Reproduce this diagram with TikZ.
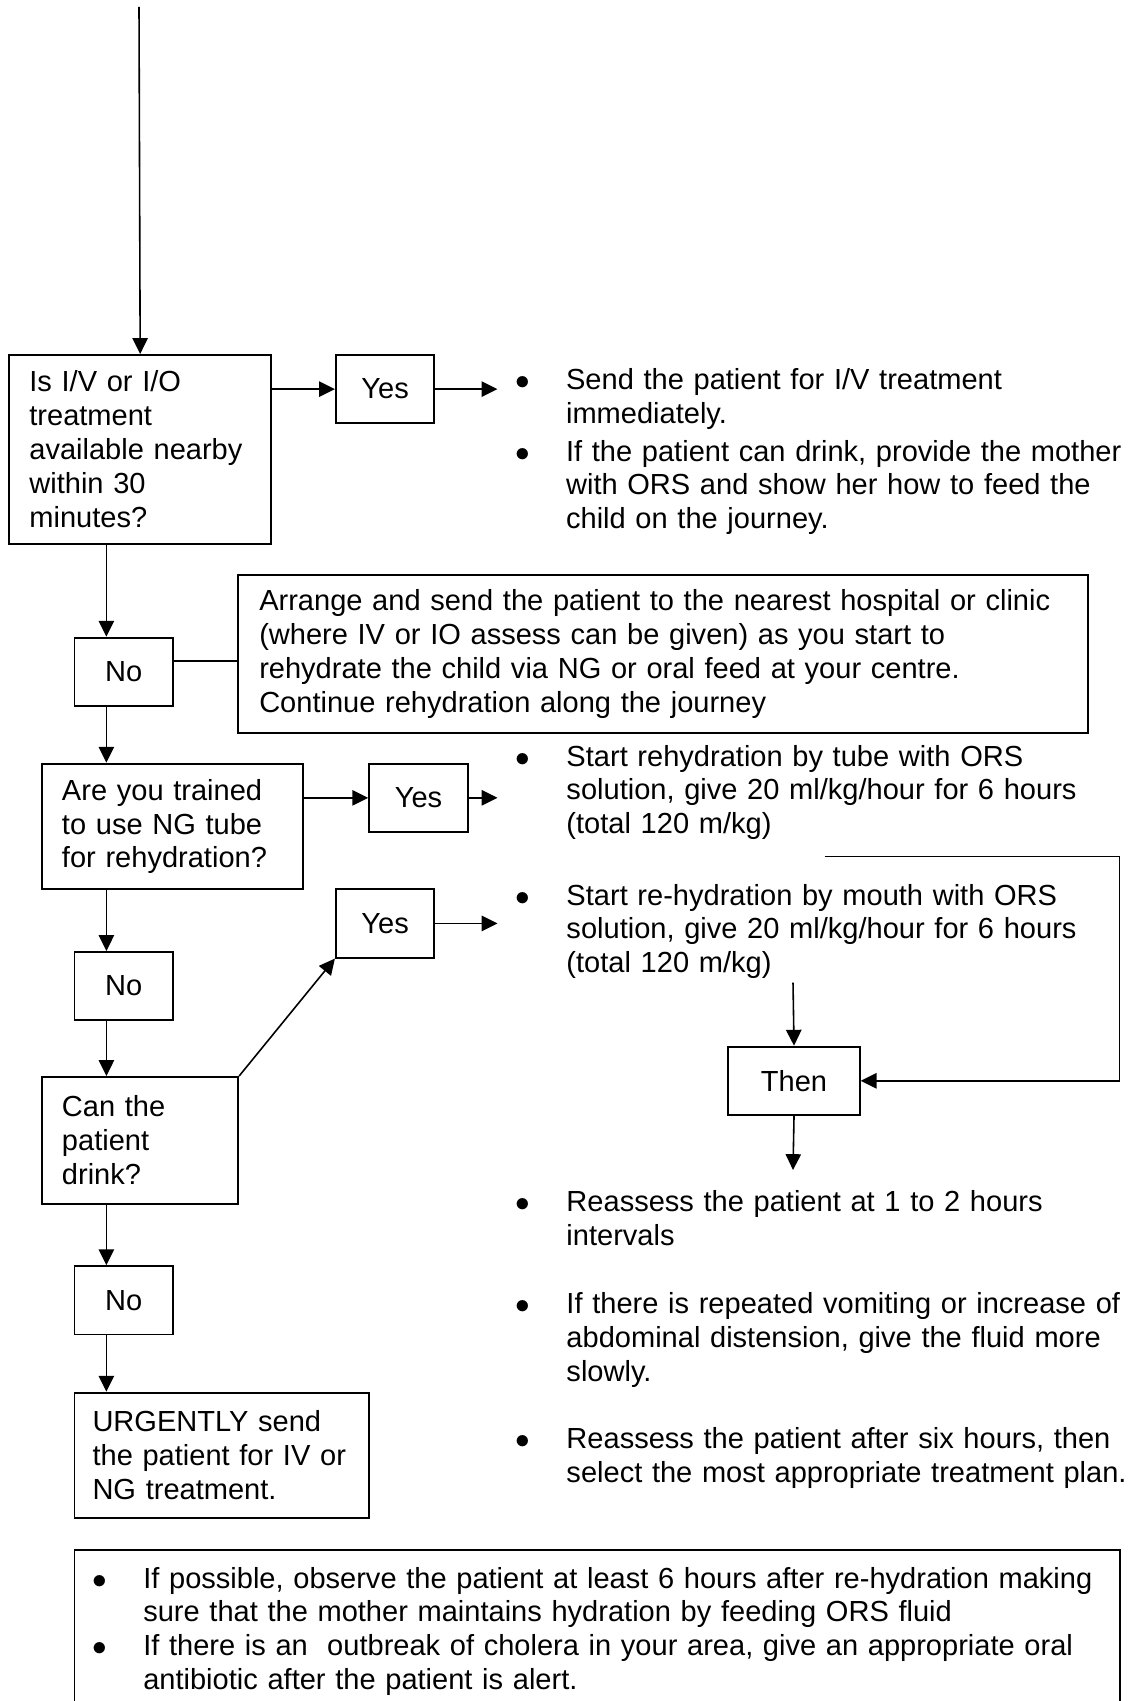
\documentclass[tikz,border=0pt]{standalone}
\usepackage{fontspec}
\setmainfont{Liberation Sans}
\usetikzlibrary{arrows.meta}
\newcommand\bul{\leavevmode\llap{$\bullet$\hspace{14.7pt}}}
\tikzset{
  every node/.style={font=\fontsize{11.9}{13.9}\selectfont},
  arr/.style={line width=0.65pt,-{Triangle[length=6.5pt,width=6.3pt]}},
  box/.style={draw,line width=0.8pt,anchor=north west,align=left,inner ysep=2pt},
  small/.style={draw,line width=0.8pt,anchor=north west,minimum width=40.4pt,minimum height=28pt,inner sep=0pt},
  txt/.style={anchor=base west,align=left,inner sep=0pt,text width=262pt}
}
\begin{document}
\begin{tikzpicture}[x=0.4098pt,y=-0.4098pt]
                \useasboundingbox (0,0) rectangle (1131,1701);
                \clip (0,0) rectangle (1131,1701);
                \coordinate (top) at (139,7);
                \coordinate (spine) at (106.4,0);
                \coordinate (tipx) at (497.5,0);
                \coordinate (loopa) at (824.5,856.7);
                \coordinate (loopb) at (1119.3,856.7);
                \coordinate (fromc) at (793,982.7);
                \coordinate (down) at (793,1170);
                \node[box,inner xsep=8.2pt,text width=90.8pt,minimum height=77.3pt] (ivq) at (8.4,354)
                  {Is I/V or I/O\\ treatment\\ available nearby\\ within 30\\ minutes?};
                \node[small] (yesiv) at (334.9,354) {Yes};
                \node[txt] (sendtxt) at (565.6,390)
                  {\bul Send the patient for I/V treatment\\ immediately.\\[1.3pt]
                   \bul If the patient can drink, provide the mother\\ with ORS and show her how to feed the\\ child on the journey.};
                \node[small] (noiv) at (73.5,636.7) {No};
                \node[box,inner xsep=8.6pt,text width=331.1pt,minimum height=64.5pt] (arrange) at (237.3,574.3)
                  {Arrange and send the patient to the nearest hospital or clinic\\ (where IV or IO assess can be given) as you start to\\
                   rehydrate the child via NG or oral feed at your centre.\\ Continue rehydration along the journey};
                \node[box,inner xsep=8.2pt,text width=90.7pt,minimum height=51.5pt] (ngq) at (41,762.7)
                  {Are you trained\\ to use NG tube\\ for rehydration?};
                \node[small] (yesng) at (368.2,762.7) {Yes};
                \node[txt] (tubetxt) at (566,766)
                  {\bul Start rehydration by tube with ORS\\ solution, give 20 ml/kg/hour for 6 hours\\ (total 120 m/kg)};
                \node[small] (nong) at (73.5,951) {No};
                \node[small] (yesdrink) at (334.9,888.3) {Yes};
                \node[txt] (mouthtxt) at (566,905)
                  {\bul Start re-hydration by mouth with ORS\\ solution, give 20 ml/kg/hour for 6 hours\\ (total 120 m/kg)};
                \node[box,inner xsep=8.2pt,text width=64pt,minimum height=51.9pt] (drinkq) at (41,1076)
                  {Can the\\ patient\\ drink?};
                \node[small,minimum width=53.8pt] (then) at (727.4,1045.7) {Then};
                \node[txt] (reassess) at (566,1211.5)
                  {\bul Reassess the patient at 1 to 2 hours\\ intervals\\[13.9pt]
                   \bul If there is repeated vomiting or increase of\\ abdominal distension, give the fluid more\\ slowly.\\[13.9pt]
                   \bul Reassess the patient after six hours, then\\ select the most appropriate treatment plan.};
                \node[small] (nodrink) at (73.5,1265.2) {No};
                \node[box,inner xsep=7.4pt,text width=106pt,minimum height=51.4pt] (urgent) at (73.5,1391.7)
                  {URGENTLY send\\ the patient for IV or\\ NG treatment.};
                \node[box,inner xsep=28.2pt,inner ysep=7.1pt,text width=372pt] (note) at (73.5,1548.7)
                  {\bul\mbox{If possible, observe the patient at least 6 hours after re-hydration making}\\
                   sure that the mother maintains hydration by feeding ORS fluid\\
                   \bul\mbox{If there is an\ \ outbreak of cholera in your area, give an appropriate oral}\\
                   antibiotic after the patient is alert.};
                \draw[arr] (top) -- (ivq.north);
                \draw[arr] (ivq.east |- yesiv.west) -- (yesiv.west);
                \draw[arr] (yesiv.east) -- (yesiv.east -| tipx);
                \draw[arr] (ivq.south -| spine) -- (noiv.north -| spine);
                \draw[line width=0.65pt] ([yshift=4.5pt]noiv.east) -- ([yshift=4.5pt]noiv.east -| arrange.west);
                \draw[arr] (noiv.south -| spine) -- (ngq.north -| spine);
                \draw[arr] (ngq.east |- yesng.west) -- (yesng.west);
                \draw[arr] (yesng.east) -- (yesng.east -| tipx);
                \draw[arr] (ngq.south -| spine) -- (nong.north -| spine);
                \draw[arr] (nong.south -| spine) -- (drinkq.north -| spine);
                \draw[arr] (drinkq.north east) -- (yesdrink.south west);
                \draw[arr] (yesdrink.east) -- (yesdrink.east -| tipx);
                \draw[arr] (loopa) -- (loopb) |- (then.east);
                \draw[arr] (fromc) -- (then.north);
                \draw[arr] (then.south) -- (down);
                \draw[arr] (drinkq.south -| spine) -- (nodrink.north -| spine);
                \draw[arr] (nodrink.south -| spine) -- (urgent.north -| spine);
            \end{tikzpicture}
\end{document}
